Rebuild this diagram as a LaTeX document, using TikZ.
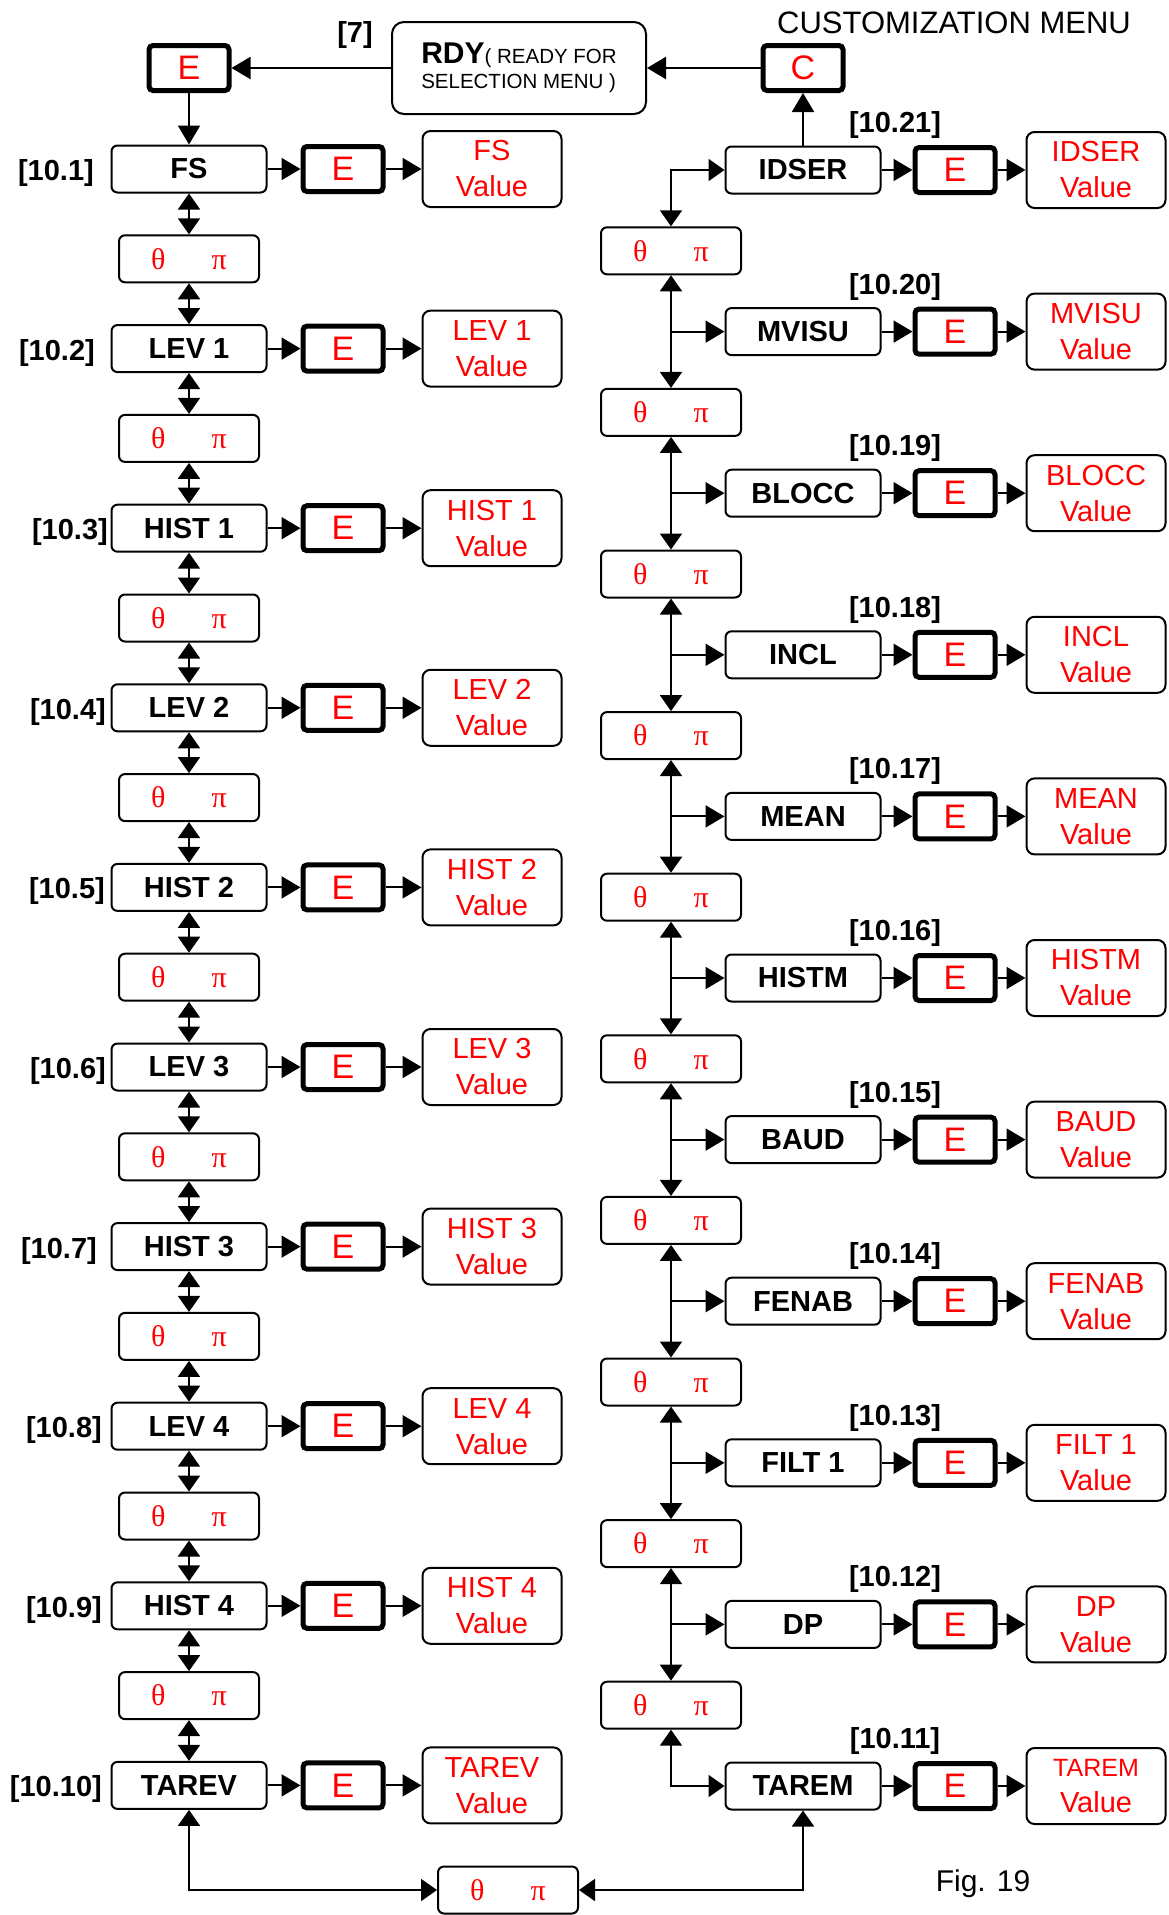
\documentclass[tikz,border=0pt]{standalone}
\usepackage{fontspec}
\setmainfont{Liberation Sans}
\newfontfamily\greekfont{Liberation Serif}
\usetikzlibrary{arrows.meta}

\newcommand{\thetapi}{{\greekfont\color{red}θ\hspace{46pt}π}}
\newcommand{\smallTAREM}{{\fontsize{25}{36}\selectfont TAREM}}

\tikzset{
  menubox/.style={draw, line width=2pt, rounded corners=6pt, inner sep=2pt,
    minimum width=155pt, minimum height=47pt, font=\fontsize{29}{30}\selectfont\bfseries},
  keybox/.style={draw, line width=5pt, rounded corners=4pt, inner sep=2pt,
    minimum width=80pt, minimum height=45pt, text=red, font=\fontsize{34}{36}\selectfont},
  valbox/.style={draw, line width=2pt, rounded corners=8pt, inner sep=2pt, align=center,
    minimum width=139pt, minimum height=76pt, text=red, font=\fontsize{29}{36}\selectfont},
  scrollbox/.style={draw, line width=2pt, rounded corners=6pt, inner sep=2pt,
    minimum width=140pt, minimum height=47pt, font=\fontsize{30}{30}\selectfont},
  reflabel/.style={font=\fontsize{29}{30}\selectfont\bfseries, inner sep=0pt},
  arr/.style={line width=2pt, -{Triangle[length=19pt,width=22pt]}},
  darr/.style={line width=2pt, {Triangle[length=16pt,width=22pt]}-{Triangle[length=16pt,width=22pt]}},
}

\begin{document}
\begin{tikzpicture}[x=1pt, y=-1pt]
\useasboundingbox (0,0) rectangle (1169,1915);
% top row
\node[keybox] (etop) at (189,68) {E};
\node[draw, line width=2pt, rounded corners=12pt, minimum width=254pt, minimum height=92pt,
  align=left, font=\fontsize{20.5}{25}\selectfont] (rdy) at (519,68)
  {{\fontsize{30}{30}\selectfont\bfseries RDY}( READY FOR\\SELECTION MENU )};
\node[reflabel] (ref7) at (355,35) {[7]};
\node[keybox] (ckey) at (803,68) {C};
\node[font=\fontsize{31}{31}\selectfont] (title) at (954,23) {CUSTOMIZATION MENU};
%------------------ left column
\newcommand{\leftItems}{FS,LEV 1,HIST 1,LEV 2,HIST 2,LEV 3,HIST 3,LEV 4,HIST 4,TAREV}
\def\refX{{94,95,108,106,105,106,97,102,102,102}}
\foreach \txt [count=\i] in \leftItems{
  \pgfmathsetmacro{\yy}{169+179.6*(\i-1)}
  \pgfmathsetmacro{\rx}{\refX[\i-1]}
  \node[menubox] (l\i) at (189,\yy) {\txt};
  \node[keybox] (le\i) at (343,\yy) {E};
  \node[valbox] (lv\i) at (492,\yy) {\txt\\Value};
  \node[reflabel, anchor=east] (lr\i) at (\rx,\yy+4) {[10.\i]};
  \draw[arr] (l\i) -- (le\i);
  \draw[arr] (le\i) -- (lv\i);
}
\foreach \i in {1,...,9}{
  \pgfmathtruncatemacro{\j}{\i+1}
  \pgfmathsetmacro{\yy}{169+179.6*(\i-0.5)}
  \node[scrollbox] (lt\i) at (189,\yy) {\thetapi};
  \draw[darr] (l\i) -- (lt\i);
  \draw[darr] (lt\i) -- (l\j);
}
%------------------ right column
\newcommand{\rightItems}{IDSER/21/IDSER,MVISU/20/MVISU,BLOCC/19/BLOCC,INCL/18/INCL,
  MEAN/17/MEAN,HISTM/16/HISTM,BAUD/15/BAUD,FENAB/14/FENAB,FILT 1/13/FILT 1,DP/12/DP,
  TAREM/11/\smallTAREM}
\foreach \txt/\num/\vtxt [count=\i] in \rightItems{
  \pgfmathsetmacro{\yy}{170+161.6*(\i-1)}
  \node[menubox] (r\i) at (803,\yy) {\txt};
  \node[keybox] (re\i) at (955,\yy) {E};
  \node[valbox] (rv\i) at (1096,\yy) {\vtxt\\Value};
  \node[reflabel] (rr\i) at (895,\yy-45) {[10.\num]};
  \draw[arr] (r\i) -- (re\i);
  \draw[arr] (re\i) -- (rv\i);
}
\foreach \i in {1,...,10}{
  \pgfmathsetmacro{\yy}{170+161.6*(\i-0.5)}
  \node[scrollbox] (rt\i) at (671,\yy) {\thetapi};
}
\draw[darr] (rt1.north) |- (r1.west);
\foreach \i in {2,...,10}{
  \pgfmathtruncatemacro{\h}{\i-1}
  \draw[darr] (rt\h.south) -- (rt\i.north);
  \coordinate (rb\i) at (rt\i.north |- r\i.west);
  \draw[arr] (rb\i) -- (r\i.west);
}
\draw[darr] (rt10.south) |- (r11.west);
%------------------ links
\draw[arr] (ckey) -- (rdy);
\draw[arr] (rdy) -- (etop);
\draw[arr] (etop) -- (l1);
\draw[arr] (r1) -- (ckey);
\node[scrollbox] (bt) at (508,1890) {\thetapi};
\draw[darr] (l10.south) |- (bt.west);
\draw[darr] (r11.south) |- (bt.east);
\node[font=\fontsize{30}{30}\selectfont] (fig) at (983,1884) {Fig. 19};
\end{tikzpicture}
\end{document}
